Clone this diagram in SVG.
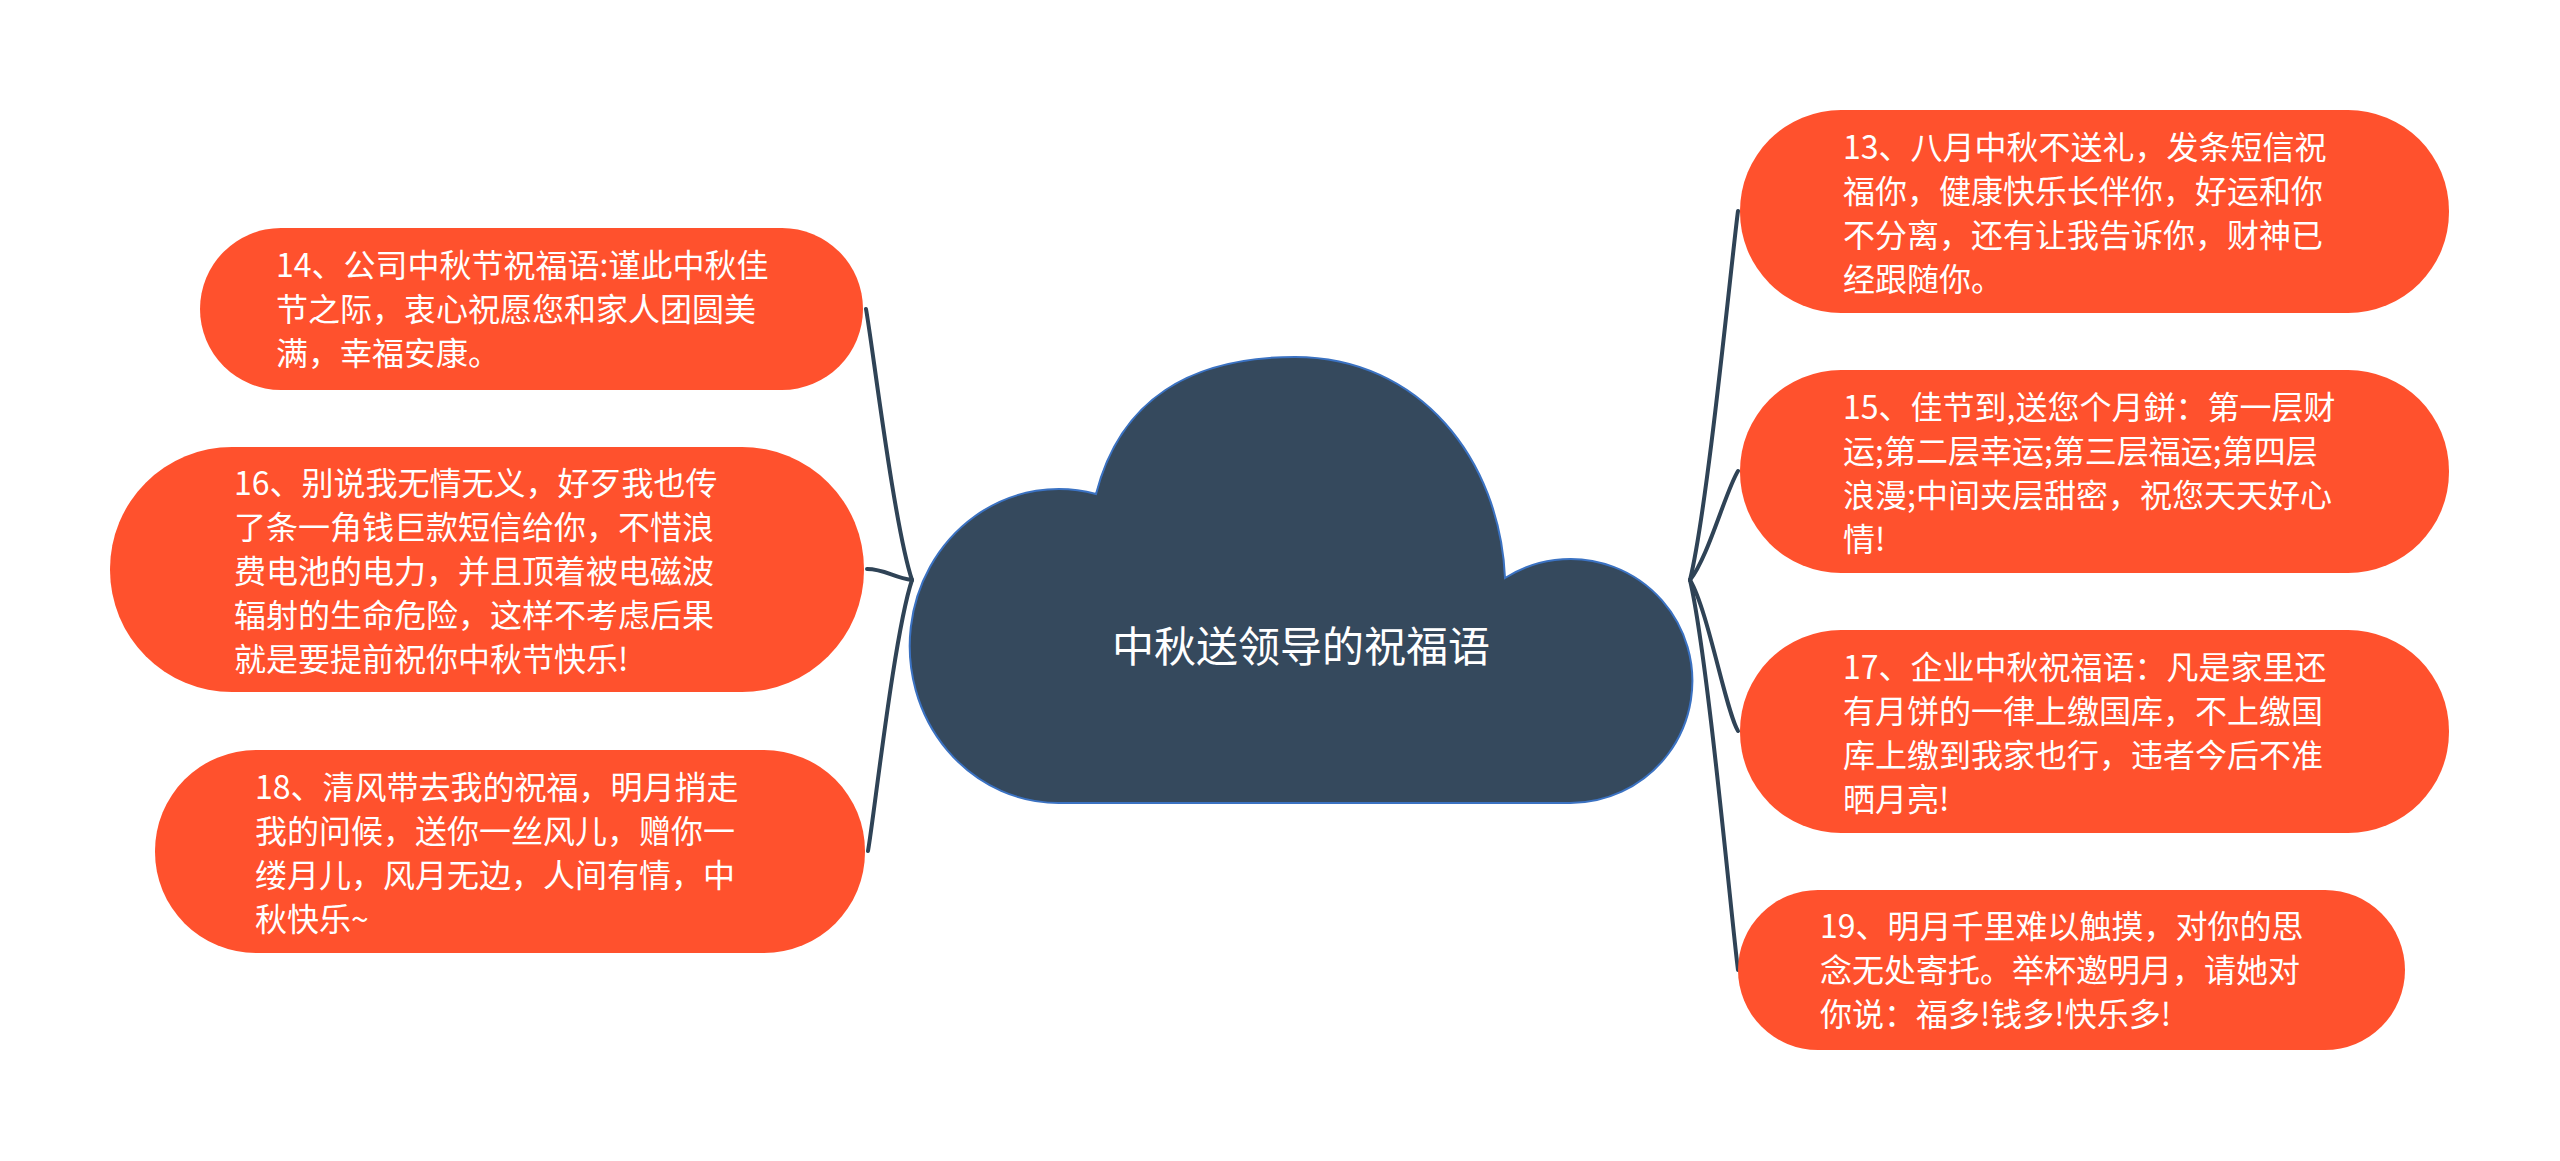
<svg xmlns="http://www.w3.org/2000/svg" width="2560" height="1161" viewBox="0 0 2560 1161">
<style>
.node rect{fill:#ff512d;}
.node text, .center text{fill:#ffffff;font-family:"Noto Sans CJK SC","Noto Sans",sans-serif;}
.node text{font-size:32px;}
.center text{font-size:42px;}
.conn path{fill:none;stroke:#2f4356;stroke-width:4;stroke-linecap:round;}
</style>
<rect width="2560" height="1161" fill="#ffffff"/>
<g id="connectors" class="conn">
<path d="M912 580 C894 526,872 341,866 309"/>
<path d="M912 580 C894 578,885 569,867 569"/>
<path d="M912 580 C894 634,874 818,868 851"/>
<path d="M1690 580 C1708 506,1732 255,1738 211"/>
<path d="M1690 580 C1708 558,1726 490,1738 471"/>
<path d="M1690 580 C1708 610,1726 712,1738 731"/>
<path d="M1690 580 C1708 658,1732 925,1738 970"/>
</g>
<g id="center" class="center">
<path d="M1096 494 C1120 400,1190 357,1295 357 C1420 357,1500 460,1505 578 A122 122 0 1 1 1570 803 L1060 803 A149 157 0 1 1 1096 494 Z" fill="#35495d" stroke="#3b72c2" stroke-width="2"/>
<text x="1301" y="662" text-anchor="middle">中秋送领导的祝福语</text>
</g>
<g id="node14" class="node">
<rect x="200" y="228" width="663" height="162" rx="81"/>
<text x="276" y="277">14、公司中秋节祝福语:谨此中秋佳</text>
<text x="276" y="321">节之际，衷心祝愿您和家人团圆美</text>
<text x="276" y="365">满，幸福安康。</text>
</g>
<g id="node16" class="node">
<rect x="110" y="447" width="754" height="245" rx="122"/>
<text x="234" y="495">16、别说我无情无义，好歹我也传</text>
<text x="234" y="539">了条一角钱巨款短信给你，不惜浪</text>
<text x="234" y="583">费电池的电力，并且顶着被电磁波</text>
<text x="234" y="627">辐射的生命危险，这样不考虑后果</text>
<text x="234" y="671">就是要提前祝你中秋节快乐!</text>
</g>
<g id="node18" class="node">
<rect x="155" y="750" width="710" height="203" rx="101"/>
<text x="255" y="799">18、清风带去我的祝福，明月捎走</text>
<text x="255" y="843">我的问候，送你一丝风儿，赠你一</text>
<text x="255" y="887">缕月儿，风月无边，人间有情，中</text>
<text x="255" y="931">秋快乐~</text>
</g>
<g id="node13" class="node">
<rect x="1740" y="110" width="709" height="203" rx="101"/>
<text x="1843" y="159">13、八月中秋不送礼，发条短信祝</text>
<text x="1843" y="203">福你，健康快乐长伴你，好运和你</text>
<text x="1843" y="247">不分离，还有让我告诉你，财神已</text>
<text x="1843" y="291">经跟随你。</text>
</g>
<g id="node15" class="node">
<rect x="1740" y="370" width="709" height="203" rx="101"/>
<text x="1843" y="419">15、佳节到,送您个月鉼：第一层财</text>
<text x="1843" y="463">运;第二层幸运;第三层福运;第四层</text>
<text x="1843" y="507">浪漫;中间夹层甜密，祝您天天好心</text>
<text x="1843" y="551">情!</text>
</g>
<g id="node17" class="node">
<rect x="1740" y="630" width="709" height="203" rx="101"/>
<text x="1843" y="679">17、企业中秋祝福语：凡是家里还</text>
<text x="1843" y="723">有月饼的一律上缴国库，不上缴国</text>
<text x="1843" y="767">库上缴到我家也行，违者今后不准</text>
<text x="1843" y="811">晒月亮!</text>
</g>
<g id="node19" class="node">
<rect x="1738" y="890" width="667" height="160" rx="80"/>
<text x="1820" y="938">19、明月千里难以触摸，对你的思</text>
<text x="1820" y="982">念无处寄托。举杯邀明月，请她对</text>
<text x="1820" y="1026">你说：福多!钱多!快乐多!</text>
</g>
</svg>
